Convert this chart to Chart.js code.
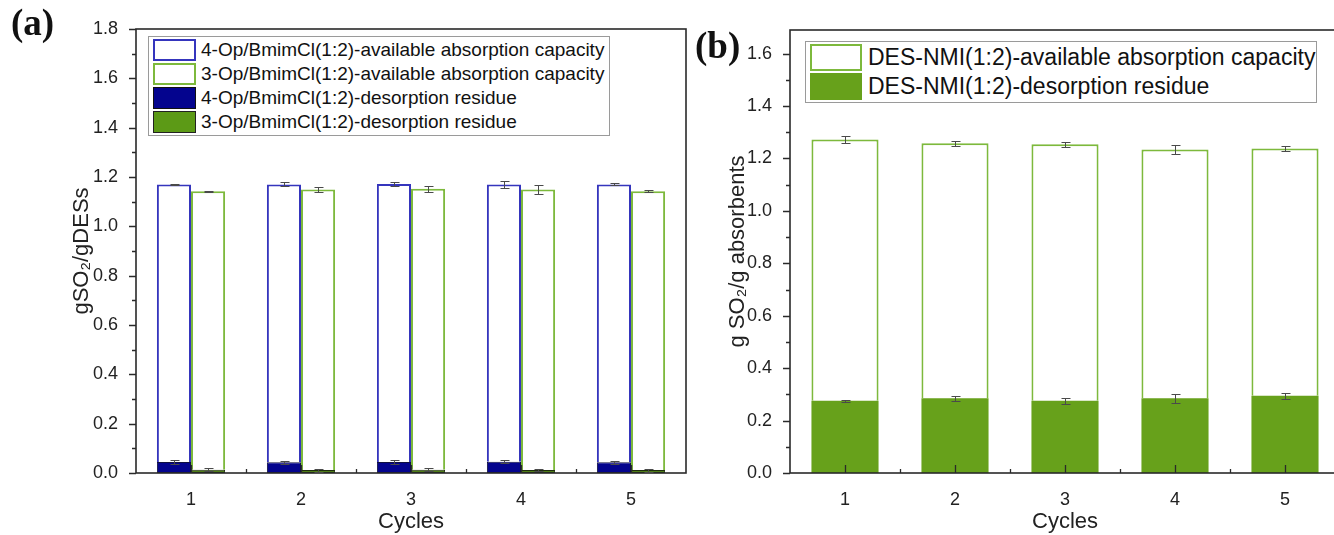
<!DOCTYPE html>
<html><head><meta charset="utf-8">
<script src="https://cdn.jsdelivr.net/npm/chart.js@4.4.0/dist/chart.umd.min.js"></script>
<style>
html,body{margin:0;padding:0;background:#fff;width:1334px;height:535px;overflow:hidden;position:relative;font-family:'Liberation Sans',Arial,sans-serif;}
#wa{position:absolute;left:0;top:0;width:690px;height:535px;}
#wb{position:absolute;left:690px;top:0;width:660px;height:535px;}
.plabel{position:absolute;font-family:'Liberation Serif','Times New Roman',serif;font-weight:bold;font-size:37px;color:#111;line-height:1;}
.legend{position:absolute;border:1px solid #9a9a9a;background:#fff;box-sizing:border-box;}
.row{display:flex;align-items:center;white-space:nowrap;color:#111;}
.sw{box-sizing:border-box;flex:none;}
</style></head>
<body>
<div id="wa"><canvas id="ca" width="690" height="535"></canvas></div>
<div id="wb"><canvas id="cb" width="660" height="535"></canvas></div>
<div class="plabel" style="left:11px;top:4px;">(a)</div>
<div class="plabel" style="left:695px;top:27px;">(b)</div>
<div id="lega" class="legend"></div>
<div id="legb" class="legend"></div>
<script>
// ---------- data ----------
const cycles = ['1', '2', '3', '4', '5'];
const yTicksA = [0, 0.2, 0.4, 0.6, 0.8, 1.0, 1.2, 1.4, 1.6, 1.8];
const yTicksB = [0, 0.2, 0.4, 0.6, 0.8, 1.0, 1.2, 1.4, 1.6];

const op4Label = '4-Op/BmimCl(1:2)';
const op3Label = '3-Op/BmimCl(1:2)';
const nmiLabel = 'DES-NMI(1:2)';
const capSuffix = '-available absorption capacity';
const resSuffix = '-desorption residue';

const op4Total = [1.170, 1.170, 1.172, 1.170, 1.170];
const op4TotalErr = [0.002, 0.008, 0.008, 0.015, 0.004];
const op4Residue = [0.045, 0.044, 0.045, 0.046, 0.044];
const op4ResidueErr = [0.007, 0.006, 0.008, 0.006, 0.006];

const op3Total = [1.142, 1.149, 1.152, 1.149, 1.142];
const op3TotalErr = [0.003, 0.010, 0.011, 0.018, 0.004];
const op3Residue = [0.013, 0.012, 0.013, 0.012, 0.012];
const op3ResidueErr = [0.006, 0.006, 0.006, 0.005, 0.006];

const nmiTotal = [1.272, 1.258, 1.254, 1.234, 1.238];
const nmiTotalErr = [0.014, 0.010, 0.010, 0.017, 0.011];
const nmiResidue = [0.276, 0.285, 0.276, 0.285, 0.295];
const nmiResidueErr = [0.004, 0.010, 0.011, 0.017, 0.011];

// ---------- styles ----------
const FONT = "'Liberation Sans', Arial, sans-serif";
const BLUE_LINE = '#3535bd';
const BLUE_FILL = '#04048e';
const GREEN_LINE = '#7db93c';
const GREEN_FILL = '#67a11b';
const GREEN_RES_A = '#4f7d18';
const AXIS = '#2a2a2a';
const ERR = '#4a4a4a';

const diff = (a, b) => a.map((v, i) => +(v - b[i]).toFixed(4));

// plugin: frame + ticks drawn from scales
const frameTicks = {
  id: 'frameTicks',
  afterDatasetsDraw(chart, args, opts) {
    const {ctx, chartArea: ca} = chart;
    const xs = chart.scales.x, ys = chart.scales.y;
    ctx.save();
    ctx.strokeStyle = AXIS;
    ctx.lineWidth = 1.6;
    ctx.strokeRect(ca.left, ca.top, ca.right - ca.left, ca.bottom - ca.top);
    ctx.lineWidth = 1.3;
    ctx.beginPath();
    const yt = opts.yTicks;
    for (let i = 0; i < yt.length; i++) {
      const p = Math.round(ys.getPixelForValue(yt[i])) + 0.5;
      ctx.moveTo(ca.left, p); ctx.lineTo(ca.left - 7, p);
      if (i < yt.length - 1) {
        const m = Math.round(ys.getPixelForValue((yt[i] + yt[i + 1]) / 2)) + 0.5;
        ctx.moveTo(ca.left, m); ctx.lineTo(ca.left - 4, m);
      }
    }
    const n = xs.getLabels().length;
    for (let i = 0; i < n; i++) {
      const p = Math.round(xs.getPixelForValue(i)) + 0.5;
      ctx.moveTo(p, ca.bottom); ctx.lineTo(p, ca.bottom - 8);
      if (i < n - 1) {
        const m = Math.round(xs.getPixelForValue(i + 0.5)) + 0.5;
        ctx.moveTo(m, ca.bottom); ctx.lineTo(m, ca.bottom - 4);
      }
    }
    ctx.stroke();
    ctx.restore();
  }
};

// plugin: error bars drawn from scales
const errBars = {
  id: 'errBars',
  afterDatasetsDraw(chart, args, opts) {
    const {ctx} = chart;
    const ys = chart.scales.y;
    ctx.save();
    ctx.strokeStyle = ERR;
    ctx.lineWidth = 1;
    ctx.beginPath();
    opts.items.forEach(it => {
      const meta = chart.getDatasetMeta(it.dataset);
      it.values.forEach((v, i) => {
        const x = Math.round(meta.data[i].x) + 0.5;
        const t = Math.round(ys.getPixelForValue(v + it.errors[i])) + 0.5;
        const b = Math.round(ys.getPixelForValue(v - it.errors[i])) + 0.5;
        ctx.moveTo(x, t); ctx.lineTo(x, b);
        ctx.moveTo(x - 4, t); ctx.lineTo(x + 5, t);
        ctx.moveTo(x - 4, b); ctx.lineTo(x + 5, b);
      });
    });
    ctx.stroke();
    ctx.restore();
  }
};

function axisCfg(yTicks, max, yTitle, titlePad, yWidth) {
  return {
    x: {
      type: 'category', stacked: true, offset: true,
      grid: {display: false}, border: {display: false},
      ticks: {color: '#222', font: {family: FONT, size: 18}, padding: 8, maxRotation: 0},
      title: {display: true, text: 'Cycles', color: '#222', font: {family: FONT, size: 22}, padding: {top: 0, bottom: 0}},
      afterFit: s => { s.height = 62; }
    },
    y: {
      stacked: true, min: 0, max: max,
      grid: {display: false}, border: {display: false},
      afterBuildTicks: s => { s.ticks = yTicks.map(v => ({value: v})); },
      ticks: {color: '#222', font: {family: FONT, size: 18}, padding: 10, callback: v => Number(v).toFixed(1)},
      title: {display: true, text: yTitle, color: '#222', font: {family: FONT, size: 22}, padding: {top: titlePad, bottom: 0}},
      afterFit: s => { s.width = yWidth; }
    }
  };
}

// ---------- panel (a) ----------
new Chart(document.getElementById('ca'), {
  type: 'bar',
  data: {
    labels: cycles,
    datasets: [
      {label: op4Label + resSuffix, data: op4Residue, stack: 's4', backgroundColor: BLUE_FILL, borderColor: '#101040', borderWidth: 1, borderSkipped: false},
      {label: op4Label + capSuffix, data: diff(op4Total, op4Residue), stack: 's4', backgroundColor: '#ffffff', borderColor: BLUE_LINE, borderWidth: 2, borderSkipped: 'start'},
      {label: op3Label + resSuffix, data: op3Residue, stack: 's3', backgroundColor: GREEN_RES_A, borderColor: '#1d2d0c', borderWidth: 1, borderSkipped: false},
      {label: op3Label + capSuffix, data: diff(op3Total, op3Residue), stack: 's3', backgroundColor: '#ffffff', borderColor: GREEN_LINE, borderWidth: 2, borderSkipped: 'start'}
    ]
  },
  options: {
    responsive: false, animation: false, devicePixelRatio: 1,
    categoryPercentage: 0.62, barPercentage: 1.0,
    layout: {padding: {left: 0, right: 4, top: 29, bottom: 0}},
    plugins: {
      legend: {display: false}, tooltip: {enabled: false},
      frameTicks: {yTicks: yTicksA},
      errBars: {items: [
        {dataset: 1, values: op4Total, errors: op4TotalErr},
        {dataset: 3, values: op3Total, errors: op3TotalErr},
        {dataset: 0, values: op4Residue, errors: op4ResidueErr},
        {dataset: 2, values: op3Residue, errors: op3ResidueErr}
      ]}
    },
    scales: axisCfg(yTicksA, 1.8, 'gSO\u2082/gDESs', 69, 136)
  },
  plugins: [frameTicks, errBars]
});

// ---------- panel (b) ----------
new Chart(document.getElementById('cb'), {
  type: 'bar',
  data: {
    labels: cycles,
    datasets: [
      {label: nmiLabel + resSuffix, data: nmiResidue, stack: 'n', backgroundColor: GREEN_FILL, borderColor: GREEN_LINE, borderWidth: 0, borderSkipped: false},
      {label: nmiLabel + capSuffix, data: diff(nmiTotal, nmiResidue), stack: 'n', backgroundColor: '#ffffff', borderColor: GREEN_LINE, borderWidth: 2, borderSkipped: 'start'}
    ]
  },
  options: {
    responsive: false, animation: false, devicePixelRatio: 1,
    categoryPercentage: 0.61, barPercentage: 1.0,
    layout: {padding: {left: 0, right: 10, top: 30, bottom: 0}},
    plugins: {
      legend: {display: false}, tooltip: {enabled: false},
      frameTicks: {yTicks: yTicksB},
      errBars: {items: [
        {dataset: 1, values: nmiTotal, errors: nmiTotalErr},
        {dataset: 0, values: nmiResidue, errors: nmiResidueErr}
      ]}
    },
    scales: axisCfg(yTicksB, 1.69, 'g SO\u2082/g absorbents', 35, 100)
  },
  plugins: [frameTicks, errBars]
});

// ---------- legends (HTML text) ----------
function buildLegend(el, items, box, sw, fontSize, rowH) {
  el.style.left = box.left + 'px'; el.style.top = box.top + 'px';
  el.style.width = box.width + 'px'; el.style.padding = box.pad + 'px 0 ' + box.pad + 'px 4px';
  items.forEach(it => {
    const r = document.createElement('div');
    r.className = 'row';
    r.style.height = rowH + 'px';
    r.style.fontSize = fontSize + 'px';
    const s = document.createElement('div');
    s.className = 'sw';
    s.style.width = sw.w + 'px'; s.style.height = sw.h + 'px';
    s.style.background = it.fill; s.style.border = it.border;
    s.style.marginRight = sw.gap + 'px';
    const t = document.createElement('span');
    t.textContent = it.text;
    r.appendChild(s); r.appendChild(t);
    el.appendChild(r);
  });
}
buildLegend(document.getElementById('lega'), [
  {text: op4Label + capSuffix, fill: '#fff', border: '2px solid ' + BLUE_LINE},
  {text: op3Label + capSuffix, fill: '#fff', border: '2px solid ' + GREEN_LINE},
  {text: op4Label + resSuffix, fill: BLUE_FILL, border: '1px solid #111'},
  {text: op3Label + resSuffix, fill: '#5c9a16', border: '1px solid #222'}
], {left: 148, top: 36, width: 462, pad: 1}, {w: 43, h: 22, gap: 5}, 19, 24);
buildLegend(document.getElementById('legb'), [
  {text: nmiLabel + capSuffix, fill: '#fff', border: '2px solid ' + GREEN_LINE},
  {text: nmiLabel + resSuffix, fill: GREEN_FILL, border: '1px solid ' + GREEN_FILL}
], {left: 805, top: 41, width: 512, pad: 1}, {w: 52, h: 27, gap: 6}, 23, 29);
</script>
</body></html>
